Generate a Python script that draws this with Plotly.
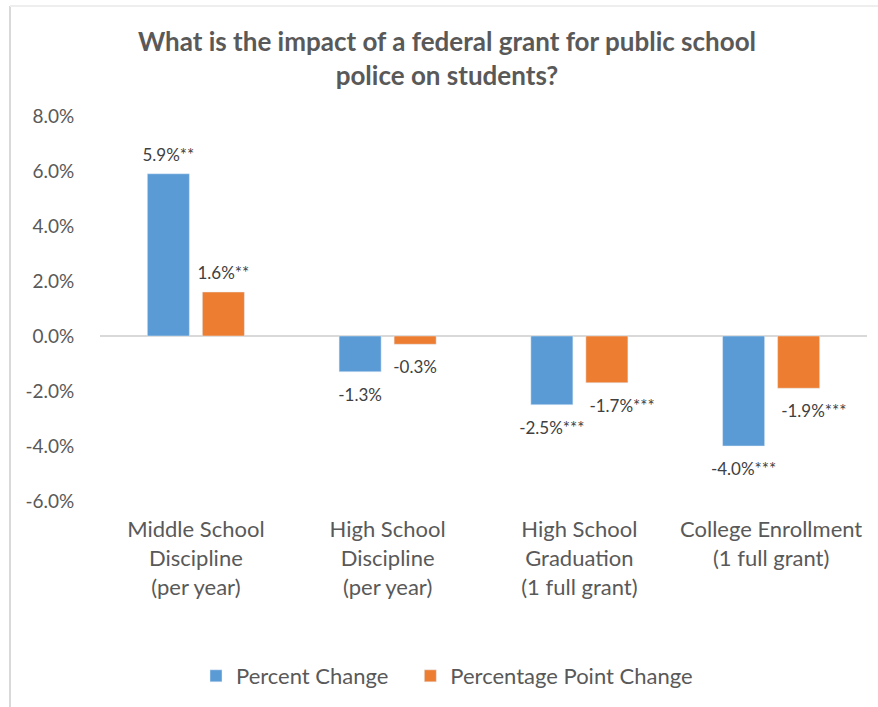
import plotly.graph_objects as go

categories = [
    "Middle School<br>Discipline<br>(per year)",
    "High School<br>Discipline<br>(per year)",
    "High School<br>Graduation<br>(1 full grant)",
    "College Enrollment<br>(1 full grant)",
]
percent_change = [5.9, -1.3, -2.5, -4.0]
percent_change_labels = ["5.9%**", "-1.3%", "-2.5%***", "-4.0%***"]
point_change = [1.6, -0.3, -1.7, -1.9]
point_change_labels = ["1.6%**", "-0.3%", "-1.7%***", "-1.9%***"]
y_ticks = [8, 6, 4, 2, 0, -2, -4, -6]
y_tick_labels = ["8.0%", "6.0%", "4.0%", "2.0%", "0.0%", "-2.0%", "-4.0%", "-6.0%"]

FONT = "Lato"
GREY = "#595959"
NB = "\u00a0"
COLORS = ["#5B9BD5", "#ED7D31"]

# the two starred orange labels sit right of their bars in the original
orange_text = [NB * 7 + t if t.endswith("***") else t for t in point_change_labels]

series = [
    ("Percent Change" + NB * 3, percent_change, percent_change_labels),
    ("Percentage Point Change", point_change, orange_text),
]

fig = go.Figure()
for i, (name, vals, labels) in enumerate(series):
    ys = [v / 100 for v in vals]
    fig.add_trace(go.Bar(
        x=categories, y=ys, name=name, marker=dict(color=COLORS[i]),
        offsetgroup=str(i),
    ))
    fig.add_trace(go.Scatter(
        x=categories, y=ys, mode="markers+text", text=labels,
        textposition=["bottom center" if v < 0 else "top center" for v in vals],
        marker=dict(size=[24 if v < 0 else 12 for v in vals], color="rgba(0,0,0,0)",
                    opacity=0, line=dict(width=0, color="rgba(0,0,0,0)")),
        textfont=dict(family=FONT, size=17, color="#404040"),
        offsetgroup=str(i), showlegend=False, hoverinfo="skip", cliponaxis=False,
    ))

W, H = 878, 707
L, R, T, B = 100, 11, 116, 206
pw, ph = W - L - R, H - T - B

def px_x(px):
    return (px - L) / pw

def px_y(py):
    return (H - B - py) / ph

fig.update_layout(
    width=W, height=H,
    margin=dict(l=L, r=R, t=T, b=B, autoexpand=False),
    paper_bgcolor="white", plot_bgcolor="white",
    barmode="group", bargap=0.426, bargroupgap=0.236,
    scattermode="group", scattergap=0.426,
    font=dict(family=FONT, color=GREY),
    title=dict(
        text="<b>What is the impact of a federal grant for public school<br>police on students?</b>",
        x=447 / W, xanchor="center", xref="container",
        y=1 - 51 / H, yanchor="top", yref="container",
        font=dict(family=FONT, size=26, color=GREY),
    ),
    xaxis=dict(
        showgrid=False, showline=False, zeroline=False,
        tickfont=dict(family=FONT, size=22, color=GREY),
        ticks="outside", ticklen=9, tickcolor="rgba(0,0,0,0)",
    ),
    yaxis=dict(
        range=[-0.06, 0.08], tickvals=[v / 100 for v in y_ticks], ticktext=y_tick_labels,
        showgrid=False, showline=False,
        zeroline=True, zerolinecolor="#D9D9D9", zerolinewidth=2,
        tickfont=dict(family=FONT, size=19, color=GREY),
        ticks="outside", ticklen=21, tickcolor="rgba(0,0,0,0)",
    ),
    legend=dict(
        orientation="h", x=px_x(447), xanchor="center", y=px_y(676), yanchor="middle",
        font=dict(family=FONT, size=22, color=GREY), itemwidth=30,
    ),
    showlegend=True,
    shapes=[
        dict(type="line", xref="paper", yref="paper",
             x0=px_x(10), x1=px_x(10), y0=px_y(6), y1=px_y(707),
             line=dict(color="#D9D9D9", width=2)),
        dict(type="line", xref="paper", yref="paper",
             x0=px_x(10), x1=px_x(878), y0=px_y(6), y1=px_y(6),
             line=dict(color="#EEEEEE", width=2)),
    ],
)

fig.write_html("out.html", config={"displayModeBar": False},
               post_script="document.body.style.margin='0';")
